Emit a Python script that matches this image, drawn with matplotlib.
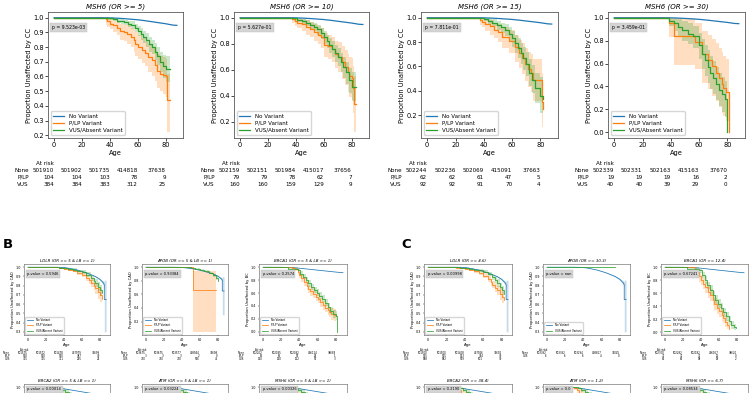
import matplotlib
matplotlib.use("Agg")
import matplotlib.pyplot as plt
from matplotlib import transforms
from matplotlib.ticker import MultipleLocator, FormatStrFormatter

# ====================== DATA ======================
RISK_AGES = [0, 20, 40, 60, 80]
CURVE_LABELS = ["No Variant", "P/LP Variant", "VUS/Absent Variant"]

# ---- Panel A: MSH6 at increasing OR thresholds ----
MSH6_NONE_AGE = [0, 35, 40, 45, 50, 55, 60, 65, 70, 75, 80, 85, 88]
MSH6_NONE_S = [1.0, 1.0, 0.999, 0.997, 0.994, 0.990, 0.986, 0.980, 0.973, 0.966, 0.959, 0.950, 0.948]

A_TITLES = ["MSH6 (OR >= 5)", "MSH6 (OR >= 10)", "MSH6 (OR >= 15)", "MSH6 (OR >= 30)"]
A_PVALS = ["p = 9.523e-03", "p = 5.627e-01", "p = 7.811e-01", "p = 3.459e-01"]
A_YSTEP = [0.1, 0.2, 0.2, 0.2]

A1_PLP_AGE = [0, 37, 38, 40, 42, 45, 47, 50, 52, 55, 57, 58, 60, 63, 65, 67, 70, 72, 74, 76, 78, 80, 81, 83]
A1_PLP_S = [1.0, 0.99, 0.98, 0.96, 0.95, 0.93, 0.91, 0.90, 0.89, 0.87, 0.85, 0.82, 0.80, 0.78, 0.76, 0.73, 0.71, 0.68, 0.64, 0.62, 0.61, 0.60, 0.44, 0.44]
A1_PLP_LO = [1.0, 0.95, 0.94, 0.92, 0.90, 0.88, 0.85, 0.84, 0.82, 0.80, 0.77, 0.74, 0.72, 0.69, 0.67, 0.63, 0.60, 0.57, 0.52, 0.50, 0.48, 0.46, 0.22, 0.22]
A1_PLP_HI = [1.0, 1.0, 1.0, 0.99, 0.98, 0.97, 0.96, 0.95, 0.95, 0.93, 0.92, 0.90, 0.88, 0.86, 0.84, 0.82, 0.80, 0.78, 0.75, 0.74, 0.73, 0.72, 0.62, 0.62]
A1_VUS_AGE = [0, 38, 42, 45, 48, 50, 53, 55, 58, 60, 62, 64, 66, 68, 70, 72, 74, 76, 78, 80, 83]
A1_VUS_S = [1.0, 0.995, 0.99, 0.98, 0.975, 0.97, 0.96, 0.95, 0.93, 0.91, 0.89, 0.87, 0.85, 0.82, 0.80, 0.77, 0.74, 0.70, 0.67, 0.65, 0.65]
A1_VUS_LO = [1.0, 0.985, 0.98, 0.965, 0.955, 0.95, 0.935, 0.92, 0.90, 0.875, 0.85, 0.83, 0.80, 0.77, 0.75, 0.71, 0.68, 0.63, 0.59, 0.56, 0.56]
A1_VUS_HI = [1.0, 1.0, 1.0, 0.99, 0.99, 0.985, 0.98, 0.975, 0.96, 0.945, 0.93, 0.91, 0.895, 0.87, 0.85, 0.825, 0.80, 0.77, 0.745, 0.74, 0.74]

A2_PLP_AGE = [0, 37, 39, 41, 44, 47, 50, 53, 56, 58, 60, 63, 66, 68, 70, 73, 75, 77, 78, 80, 81, 82, 83]
A2_PLP_S = [1.0, 0.99, 0.975, 0.96, 0.95, 0.93, 0.91, 0.89, 0.87, 0.85, 0.79, 0.78, 0.76, 0.72, 0.70, 0.66, 0.62, 0.58, 0.55, 0.54, 0.46, 0.34, 0.34]
A2_PLP_LO = [1.0, 0.96, 0.94, 0.92, 0.90, 0.87, 0.85, 0.82, 0.80, 0.77, 0.70, 0.68, 0.66, 0.61, 0.58, 0.53, 0.48, 0.43, 0.39, 0.37, 0.27, 0.12, 0.12]
A2_PLP_HI = [1.0, 1.0, 1.0, 0.99, 0.99, 0.98, 0.97, 0.95, 0.94, 0.92, 0.88, 0.87, 0.85, 0.82, 0.81, 0.78, 0.75, 0.72, 0.70, 0.69, 0.63, 0.55, 0.55]
A2_VUS_AGE = [0, 38, 41, 44, 47, 50, 53, 55, 58, 60, 62, 64, 66, 68, 70, 72, 74, 76, 78, 80, 83]
A2_VUS_S = [1.0, 0.995, 0.985, 0.975, 0.96, 0.945, 0.93, 0.91, 0.88, 0.85, 0.82, 0.79, 0.76, 0.73, 0.70, 0.66, 0.62, 0.58, 0.52, 0.47, 0.47]
A2_VUS_LO = [1.0, 0.985, 0.97, 0.955, 0.935, 0.915, 0.895, 0.87, 0.84, 0.80, 0.77, 0.73, 0.70, 0.66, 0.63, 0.58, 0.54, 0.49, 0.42, 0.36, 0.36]
A2_VUS_HI = [1.0, 1.0, 0.995, 0.99, 0.98, 0.97, 0.96, 0.945, 0.92, 0.895, 0.87, 0.845, 0.82, 0.79, 0.77, 0.73, 0.70, 0.66, 0.61, 0.58, 0.58]

A3_PLP_AGE = [0, 37, 39, 41, 44, 47, 50, 53, 56, 58, 62, 65, 67, 69, 71, 73, 75, 77, 80, 81, 82]
A3_PLP_S = [1.0, 0.98, 0.965, 0.95, 0.93, 0.90, 0.88, 0.84, 0.84, 0.81, 0.76, 0.71, 0.67, 0.62, 0.58, 0.55, 0.49, 0.49, 0.49, 0.31, 0.25]
A3_PLP_LO = [1.0, 0.94, 0.92, 0.89, 0.86, 0.83, 0.80, 0.75, 0.75, 0.71, 0.64, 0.59, 0.54, 0.48, 0.43, 0.39, 0.32, 0.32, 0.32, 0.10, 0.06]
A3_PLP_HI = [1.0, 1.0, 1.0, 0.99, 0.98, 0.96, 0.95, 0.92, 0.92, 0.90, 0.86, 0.82, 0.79, 0.75, 0.72, 0.70, 0.66, 0.66, 0.66, 0.55, 0.52]
A3_VUS_AGE = [0, 40, 43, 46, 49, 52, 55, 58, 60, 62, 64, 66, 68, 70, 72, 74, 76, 80, 82]
A3_VUS_S = [1.0, 0.99, 0.975, 0.96, 0.94, 0.92, 0.90, 0.87, 0.83, 0.79, 0.75, 0.71, 0.67, 0.62, 0.55, 0.49, 0.42, 0.36, 0.33]
A3_VUS_LO = [1.0, 0.97, 0.95, 0.93, 0.90, 0.875, 0.85, 0.81, 0.76, 0.71, 0.67, 0.62, 0.57, 0.52, 0.44, 0.38, 0.30, 0.22, 0.16]
A3_VUS_HI = [1.0, 1.0, 0.995, 0.99, 0.975, 0.96, 0.945, 0.92, 0.89, 0.86, 0.83, 0.79, 0.76, 0.72, 0.66, 0.61, 0.55, 0.51, 0.50]

A4_PLP_AGE = [0, 39, 42, 57, 62, 66, 69, 72, 74, 76, 77, 79, 81]
A4_PLP_S = [1.0, 0.95, 0.84, 0.79, 0.68, 0.63, 0.58, 0.52, 0.47, 0.42, 0.39, 0.35, 0.0]
A4_PLP_LO = [1.0, 0.83, 0.59, 0.55, 0.43, 0.38, 0.32, 0.27, 0.22, 0.17, 0.14, 0.10, 0.0]
A4_PLP_HI = [1.0, 1.0, 1.0, 0.95, 0.88, 0.85, 0.81, 0.78, 0.74, 0.70, 0.67, 0.64, 0.0]
A4_VUS_AGE = [0, 39, 42, 45, 48, 52, 56, 60, 62, 64, 66, 68, 70, 72, 74, 76, 78, 80]
A4_VUS_S = [1.0, 0.975, 0.95, 0.92, 0.89, 0.86, 0.84, 0.76, 0.68, 0.63, 0.57, 0.52, 0.47, 0.42, 0.37, 0.33, 0.29, 0.0]
A4_VUS_LO = [1.0, 0.93, 0.88, 0.84, 0.80, 0.77, 0.74, 0.64, 0.55, 0.49, 0.43, 0.38, 0.33, 0.28, 0.23, 0.18, 0.13, 0.0]
A4_VUS_HI = [1.0, 1.0, 1.0, 0.99, 0.97, 0.95, 0.93, 0.87, 0.81, 0.76, 0.72, 0.67, 0.62, 0.57, 0.52, 0.48, 0.45, 0.0]

A_RISK_NONE = [[501910, 501902, 501735, 414818, 37638],
               [502159, 502151, 501984, 415017, 37656],
               [502244, 502236, 502069, 415091, 37663],
               [502339, 502331, 502163, 415163, 37670]]
A_RISK_PLP = [[104, 104, 103, 78, 9], [79, 79, 78, 62, 7], [62, 62, 61, 47, 5], [19, 19, 19, 16, 2]]
A_RISK_VUS = [[384, 384, 383, 312, 25], [160, 160, 159, 129, 9], [92, 92, 91, 70, 4], [40, 40, 39, 29, 0]]

# ---- shared reference ("None") curves for the small panels ----
CAD_NONE_AGE = [0, 30, 40, 45, 50, 55, 60, 65, 70, 75, 80, 84, 85, 85, 87]
CAD_NONE_S = [1.0, 1.0, 0.998, 0.99, 0.98, 0.97, 0.955, 0.94, 0.92, 0.90, 0.87, 0.83, 0.81, 0.65, 0.65]
CAD_NONE_LO = [1.0, 1.0, 0.997, 0.989, 0.979, 0.968, 0.953, 0.937, 0.916, 0.894, 0.86, 0.81, 0.78, 0.30, 0.30]
CAD_NONE_HI = [1.0, 1.0, 0.999, 0.991, 0.981, 0.972, 0.957, 0.943, 0.924, 0.906, 0.88, 0.85, 0.84, 0.86, 0.86]
BC_NONE_AGE = [0, 20, 30, 40, 50, 60, 70, 80, 88]
BC_NONE_S = [1.0, 0.999, 0.995, 0.985, 0.97, 0.955, 0.94, 0.925, 0.915]

# ---- Panel B (OR >= 5 & LB >= 1) ----
B1_PLP_AGE = [0, 30, 35, 40, 45, 50, 55, 60, 65, 68, 70, 73, 75, 78, 80, 82]
B1_PLP_S = [1.0, 0.998, 0.99, 0.98, 0.97, 0.96, 0.94, 0.92, 0.88, 0.86, 0.83, 0.80, 0.77, 0.73, 0.70, 0.66]
B1_PLP_LO = [1.0, 0.995, 0.985, 0.97, 0.96, 0.945, 0.92, 0.895, 0.85, 0.82, 0.79, 0.75, 0.71, 0.66, 0.62, 0.56]
B1_PLP_HI = [1.0, 1.0, 0.995, 0.99, 0.98, 0.975, 0.96, 0.945, 0.91, 0.895, 0.87, 0.845, 0.82, 0.79, 0.77, 0.75]
B1_VUS_AGE = [0, 35, 40, 45, 50, 55, 60, 65, 70, 73, 75, 78, 80, 82]
B1_VUS_S = [1.0, 0.995, 0.99, 0.985, 0.975, 0.96, 0.945, 0.92, 0.88, 0.85, 0.83, 0.79, 0.75, 0.72]
B1_VUS_LO = [1.0, 0.99, 0.983, 0.975, 0.962, 0.945, 0.925, 0.895, 0.85, 0.81, 0.79, 0.74, 0.69, 0.65]
B1_VUS_HI = [1.0, 1.0, 0.997, 0.993, 0.988, 0.975, 0.965, 0.945, 0.91, 0.885, 0.87, 0.84, 0.81, 0.79]

B2_PLP_AGE = [0, 52, 78]
B2_PLP_S = [1.0, 0.667, 0.667]
B2_PLP_LO = [1.0, 0.05, 0.05]
B2_PLP_HI = [1.0, 0.95, 0.95]
B2_VUS_AGE = [0, 45, 50, 55, 60, 65, 70, 75, 78, 80]
B2_VUS_S = [1.0, 0.998, 0.99, 0.98, 0.965, 0.95, 0.92, 0.88, 0.84, 0.79]
B2_VUS_LO = [1.0, 0.996, 0.986, 0.974, 0.957, 0.94, 0.905, 0.86, 0.81, 0.74]
B2_VUS_HI = [1.0, 1.0, 0.994, 0.986, 0.973, 0.96, 0.935, 0.90, 0.87, 0.84]

B3_PLP_AGE = [0, 32, 35, 38, 40, 42, 45, 48, 50, 52, 55, 58, 60, 63, 66, 68, 71, 73, 75, 78, 80]
B3_PLP_S = [1.0, 0.99, 0.97, 0.93, 0.88, 0.83, 0.77, 0.71, 0.67, 0.63, 0.59, 0.54, 0.51, 0.46, 0.41, 0.37, 0.33, 0.30, 0.28, 0.26, 0.25]
B3_PLP_LO = [1.0, 0.97, 0.94, 0.89, 0.83, 0.77, 0.71, 0.65, 0.60, 0.56, 0.52, 0.47, 0.44, 0.39, 0.34, 0.30, 0.26, 0.23, 0.19, 0.17, 0.17]
B3_PLP_HI = [1.0, 1.0, 0.99, 0.96, 0.92, 0.88, 0.83, 0.77, 0.73, 0.70, 0.66, 0.61, 0.58, 0.53, 0.48, 0.44, 0.40, 0.38, 0.37, 0.36, 0.36]
B3_VUS_AGE = [0, 28, 38, 41, 44, 47, 50, 53, 56, 59, 62, 65, 68, 71, 74, 77, 80, 81]
B3_VUS_S = [1.0, 0.98, 0.95, 0.90, 0.85, 0.80, 0.75, 0.69, 0.65, 0.60, 0.56, 0.51, 0.45, 0.38, 0.32, 0.27, 0.25, 0.0]
B3_VUS_LO = [1.0, 0.96, 0.92, 0.86, 0.81, 0.76, 0.70, 0.64, 0.60, 0.55, 0.51, 0.46, 0.40, 0.33, 0.27, 0.22, 0.18, 0.0]
B3_VUS_HI = [1.0, 1.0, 0.98, 0.94, 0.89, 0.85, 0.80, 0.74, 0.70, 0.66, 0.61, 0.57, 0.51, 0.44, 0.38, 0.33, 0.32, 0.0]

B_TITLES = ["LDLR (OR >= 5 & LB >= 1)", "APOB (OR >= 5 & LB >= 1)", "BRCA1 (OR >= 5 & LB >= 1)"]
B_PVALS = ["p-value = 0.5946", "p-value = 0.93384", "p-value = 0.2574"]
B_RISK_NONE = [[501575, 501572, 501478, 407979, 34699], [503675, 503675, 503577, 408944, 34698], [502202, 502185, 502082, 406114, 38688]]
B_RISK_PLP = [[530, 530, 530, 387, 30], [3, 3, 3, 2, 0], [66, 66, 57, 26, 1]]
B_RISK_VUS = [[325, 325, 321, 255, 24], [730, 730, 730, 576, 45], [130, 130, 122, 57, 3]]

# ---- Panel C (calibrated OR thresholds) ----
C1_PLP_AGE = [0, 30, 35, 40, 45, 50, 55, 60, 65, 68, 70, 73, 75, 78, 80, 83]
C1_PLP_S = [1.0, 0.997, 0.99, 0.98, 0.97, 0.955, 0.935, 0.91, 0.87, 0.84, 0.81, 0.78, 0.75, 0.71, 0.68, 0.65]
C1_PLP_LO = [1.0, 0.994, 0.985, 0.972, 0.96, 0.94, 0.915, 0.885, 0.84, 0.80, 0.77, 0.73, 0.70, 0.65, 0.61, 0.57]
C1_PLP_HI = [1.0, 1.0, 0.995, 0.988, 0.98, 0.97, 0.955, 0.935, 0.90, 0.875, 0.85, 0.825, 0.80, 0.77, 0.75, 0.73]
C1_VUS_AGE = [0, 35, 40, 45, 50, 55, 60, 65, 70, 73, 75, 78, 80, 83]
C1_VUS_S = [1.0, 0.996, 0.99, 0.985, 0.975, 0.965, 0.95, 0.93, 0.89, 0.86, 0.83, 0.79, 0.75, 0.71]
C1_VUS_LO = [1.0, 0.992, 0.984, 0.977, 0.965, 0.952, 0.935, 0.91, 0.865, 0.83, 0.79, 0.75, 0.70, 0.65]
C1_VUS_HI = [1.0, 1.0, 0.996, 0.993, 0.985, 0.978, 0.965, 0.95, 0.915, 0.89, 0.87, 0.83, 0.80, 0.77]

C2_VUS_AGE = [0, 75]
C2_VUS_S = [1.0, 1.0]

C3_PLP_AGE = [0, 33, 36, 38, 40, 42, 45, 48, 50, 53, 55, 58, 60, 63, 65, 67, 69, 71]
C3_PLP_S = [1.0, 0.97, 0.92, 0.86, 0.80, 0.75, 0.69, 0.62, 0.57, 0.50, 0.44, 0.38, 0.33, 0.27, 0.22, 0.16, 0.11, 0.05]
C3_PLP_LO = [1.0, 0.92, 0.85, 0.78, 0.72, 0.66, 0.60, 0.53, 0.48, 0.41, 0.35, 0.29, 0.24, 0.18, 0.14, 0.09, 0.05, 0.01]
C3_PLP_HI = [1.0, 1.0, 0.97, 0.93, 0.88, 0.84, 0.78, 0.71, 0.66, 0.59, 0.53, 0.47, 0.42, 0.36, 0.31, 0.25, 0.19, 0.12]
C3_VUS_AGE = [0, 25, 38, 41, 44, 47, 50, 53, 56, 59, 62, 65, 68, 71, 74, 77, 79]
C3_VUS_S = [1.0, 0.98, 0.95, 0.88, 0.80, 0.72, 0.65, 0.57, 0.50, 0.44, 0.38, 0.31, 0.25, 0.18, 0.12, 0.08, 0.07]
C3_VUS_LO = [1.0, 0.95, 0.91, 0.83, 0.74, 0.66, 0.58, 0.50, 0.43, 0.37, 0.31, 0.24, 0.18, 0.12, 0.06, 0.03, 0.03]
C3_VUS_HI = [1.0, 1.0, 0.98, 0.93, 0.86, 0.78, 0.72, 0.64, 0.57, 0.51, 0.45, 0.38, 0.32, 0.25, 0.18, 0.13, 0.12]

C_TITLES = ["LDLR (OR >= 4.6)", "APOB (OR >= 30.3)", "BRCA1 (OR >= 12.4)"]
C_PVALS = ["p-value = 0.00998", "p-value = nan", "p-value = 0.67241"]
C_RISK_NONE = [[501500, 501500, 501408, 407926, 34692], [503392, 503392, 503294, 408817, 34045], [502300, 502282, 502182, 406167, 38620]]
C_RISK_PLP = [[515, 515, 513, 394, 30], None, [37, 37, 31, 12, 0]]
C_RISK_VUS = [[588, 582, 579, 501, 30], [6, 6, 6, 4, 0], [62, 62, 58, 18, 2]]

# ---- second row of panels B and C (cut off at the bottom edge) ----
ROW2_PLP_AGE = [0, 30, 33, 36, 40, 45, 50, 55, 60, 65, 70, 75, 80]
ROW2_PLP_S = [1.0, 0.99, 0.97, 0.94, 0.90, 0.84, 0.78, 0.72, 0.66, 0.60, 0.55, 0.50, 0.46]
ROW2_PLP_LO = [1.0, 0.97, 0.93, 0.89, 0.84, 0.77, 0.70, 0.64, 0.57, 0.51, 0.45, 0.40, 0.35]
ROW2_PLP_HI = [1.0, 1.0, 1.0, 0.98, 0.95, 0.90, 0.85, 0.80, 0.74, 0.69, 0.64, 0.60, 0.57]
ROW2_VUS_AGE = [0, 34, 38, 42, 46, 50, 55, 60, 65, 70, 75, 80]
ROW2_VUS_S = [1.0, 0.99, 0.97, 0.95, 0.91, 0.87, 0.82, 0.77, 0.71, 0.65, 0.60, 0.55]
ROW2_VUS_LO = [1.0, 0.98, 0.95, 0.92, 0.87, 0.83, 0.77, 0.71, 0.65, 0.58, 0.52, 0.46]
ROW2_VUS_HI = [1.0, 1.0, 0.99, 0.98, 0.95, 0.91, 0.87, 0.83, 0.77, 0.72, 0.68, 0.64]
B_ROW2_TITLES = ["BRCA2 (OR >= 5 & LB >= 1)", "ATM (OR >= 5 & LB >= 1)", "MSH6 (OR >= 5 & LB >= 1)"]
B_ROW2_PVALS = ["p-value = 0.00014", "p-value = 0.03224", "p-value = 0.00326"]
C_ROW2_TITLES = ["BRCA2 (OR >= 38.4)", "ATM (OR >= 1.2)", "MSH6 (OR >= 6.7)"]
C_ROW2_PVALS = ["p-value = 0.2190", "p-value = 0.0", "p-value = 0.08534"]

# ====================== DRAWING ======================
W, H = 750, 393
BLUE, ORANGE, GREEN = "#1f77b4", "#ff7f0e", "#2ca02c"
fig = plt.figure(figsize=(7.5, 3.93), dpi=100)

TOP = dict(tick=4.8, title=5.0, label=4.8, leg=4.0, p=3.3, risk=4.1, lw=0.9, spine=0.6,
           ticklen=2.0, tickw=0.5, labelpad=1.0, titlepad=2.5, rowx=-18, hl=2.0)
SMALL = dict(tick=2.4, title=2.9, label=2.7, leg=2.0, p=2.6, risk=1.9, lw=0.55, spine=0.4,
             ticklen=1.0, tickw=0.3, labelpad=0.6, titlepad=1.2, rowx=-20, hl=2.5)


def px_axes(l, t, r, b):
    return fig.add_axes([l / W, 1 - b / H, (r - l) / W, (b - t) / H])


def curve(ax, age, s, lo, hi, color, label, lw, smooth=False):
    if smooth:
        ax.plot(age, s, color=color, lw=lw, label=label)
        if lo is not None:
            ax.fill_between(age, lo, hi, color=color, alpha=0.25, lw=0)
    else:
        ax.step(age, s, where="post", color=color, lw=lw, label=label)
        if lo is not None:
            ax.fill_between(age, lo, hi, step="post", color=color, alpha=0.25, lw=0)


def style_axes(ax, title, ptext, ystep, st, py, px=0.03):
    ax.set_title(title, fontsize=st["title"], style="italic", pad=st["titlepad"])
    ax.xaxis.set_major_locator(MultipleLocator(20))
    ax.yaxis.set_major_locator(MultipleLocator(ystep))
    ax.yaxis.set_major_formatter(FormatStrFormatter("%.1f"))
    ax.tick_params(labelsize=st["tick"], length=st["ticklen"], width=st["tickw"], pad=1)
    for sp in ax.spines.values():
        sp.set_linewidth(st["spine"])
        sp.set_color("0.35")
    ax.text(px, py, ptext, transform=ax.transAxes, fontsize=st["p"], ha="left", va="center",
            bbox=dict(boxstyle="square,pad=0.45", fc="0.83", ec="0.75", lw=0.3))


def labels_legend(ax, ylabel, st):
    ax.set_ylabel(ylabel, fontsize=st["label"], labelpad=st["labelpad"])
    ax.set_xlabel("Age", fontsize=st["label"], labelpad=st["labelpad"])
    ax.legend(loc="lower left", fontsize=st["leg"], handlelength=st["hl"], framealpha=0.8,
              edgecolor="0.8", borderpad=0.4, labelspacing=0.4)


def at_risk(ax, rows, ys, st):
    tr = transforms.blended_transform_factory(ax.transData, fig.transFigure)
    ax.text(RISK_AGES[0], 1 - ys[0] / H, "At risk", transform=tr, ha="right", va="center", fontsize=st["risk"])
    for i, (name, vals) in enumerate(rows):
        y = 1 - ys[i + 1] / H
        ax.text(st["rowx"], y, name, transform=tr, ha="right", va="center", fontsize=st["risk"])
        for t, v in zip(RISK_AGES, vals):
            ax.text(t, y, str(v), transform=tr, ha="right", va="center", fontsize=st["risk"])


# ---- Panel A ----
A_BOXES = [(48, 183), (234, 369), (421, 558), (608, 745)]
A_PLP = [(A1_PLP_AGE, A1_PLP_S, A1_PLP_LO, A1_PLP_HI), (A2_PLP_AGE, A2_PLP_S, A2_PLP_LO, A2_PLP_HI),
         (A3_PLP_AGE, A3_PLP_S, A3_PLP_LO, A3_PLP_HI), (A4_PLP_AGE, A4_PLP_S, A4_PLP_LO, A4_PLP_HI)]
A_VUS = [(A1_VUS_AGE, A1_VUS_S, A1_VUS_LO, A1_VUS_HI), (A2_VUS_AGE, A2_VUS_S, A2_VUS_LO, A2_VUS_HI),
         (A3_VUS_AGE, A3_VUS_S, A3_VUS_LO, A3_VUS_HI), (A4_VUS_AGE, A4_VUS_S, A4_VUS_LO, A4_VUS_HI)]
for i, (l, r) in enumerate(A_BOXES):
    ax = px_axes(l, 12, r, 138)
    curve(ax, MSH6_NONE_AGE, MSH6_NONE_S, None, None, BLUE, CURVE_LABELS[0], TOP["lw"], smooth=True)
    curve(ax, *A_PLP[i], ORANGE, CURVE_LABELS[1], TOP["lw"])
    curve(ax, *A_VUS[i], GREEN, CURVE_LABELS[2], TOP["lw"])
    style_axes(ax, A_TITLES[i], A_PVALS[i], A_YSTEP[i], TOP, 0.877)
    labels_legend(ax, "Proportion Unaffected by CC", TOP)
    at_risk(ax, [("None", A_RISK_NONE[i]), ("P/LP", A_RISK_PLP[i]), ("VUS", A_RISK_VUS[i])],
            [164, 171, 177.5, 184], TOP)

# ---- Panels B and C ----
fig.text(3 / W, 1 - 244 / H, "B", fontsize=9.5, fontweight="bold", va="center")
fig.text(401 / W, 1 - 244 / H, "C", fontsize=9.5, fontweight="bold", va="center")

SMALL_BOXES_B = [(24, 110), (142, 228), (259, 347)]
SMALL_BOXES_C = [(424, 512), (543, 630), (661, 748)]
RISK_Y_SMALL = [350, 353.3, 355.9, 358.5]

B_CURVES = [
    [(CAD_NONE_AGE, CAD_NONE_S, CAD_NONE_LO, CAD_NONE_HI, BLUE, True),
     (B1_PLP_AGE, B1_PLP_S, B1_PLP_LO, B1_PLP_HI, ORANGE, False),
     (B1_VUS_AGE, B1_VUS_S, B1_VUS_LO, B1_VUS_HI, GREEN, False)],
    [(CAD_NONE_AGE, CAD_NONE_S, CAD_NONE_LO, CAD_NONE_HI, BLUE, True),
     (B2_PLP_AGE, B2_PLP_S, B2_PLP_LO, B2_PLP_HI, ORANGE, False),
     (B2_VUS_AGE, B2_VUS_S, B2_VUS_LO, B2_VUS_HI, GREEN, False)],
    [(BC_NONE_AGE, BC_NONE_S, None, None, BLUE, True),
     (B3_PLP_AGE, B3_PLP_S, B3_PLP_LO, B3_PLP_HI, ORANGE, False),
     (B3_VUS_AGE, B3_VUS_S, B3_VUS_LO, B3_VUS_HI, GREEN, False)],
]
C_CURVES = [
    [(CAD_NONE_AGE, CAD_NONE_S, CAD_NONE_LO, CAD_NONE_HI, BLUE, True),
     (C1_PLP_AGE, C1_PLP_S, C1_PLP_LO, C1_PLP_HI, ORANGE, False),
     (C1_VUS_AGE, C1_VUS_S, C1_VUS_LO, C1_VUS_HI, GREEN, False)],
    [(CAD_NONE_AGE, CAD_NONE_S, CAD_NONE_LO, CAD_NONE_HI, BLUE, True),
     (C2_VUS_AGE, C2_VUS_S, None, None, GREEN, False)],
    [(BC_NONE_AGE, BC_NONE_S, None, None, BLUE, True),
     (C3_PLP_AGE, C3_PLP_S, C3_PLP_LO, C3_PLP_HI, ORANGE, False),
     (C3_VUS_AGE, C3_VUS_S, C3_VUS_LO, C3_VUS_HI, GREEN, False)],
]
LABEL_BY_COLOR = {BLUE: CURVE_LABELS[0], ORANGE: CURVE_LABELS[1], GREEN: CURVE_LABELS[2]}
YLABELS = ["Proportion Unaffected by CAD", "Proportion Unaffected by CAD", "Proportion Unaffected by BC"]
B_YSTEP = [0.1, 0.2, 0.2]
C_YSTEP = [0.1, 0.1, 0.2]


def small_panel(box, curves, title, ptext, ystep, top, bottom, py):
    ax = px_axes(box[0], top, box[1], bottom)
    for age, s, lo, hi, col, smooth in curves:
        curve(ax, age, s, lo, hi, col, LABEL_BY_COLOR[col], SMALL["lw"], smooth=smooth)
    style_axes(ax, title, ptext, ystep, SMALL, py, px=0.04)
    return ax


for boxes, curves_l, titles, pvals, ysteps, rnone, rplp, rvus in [
        (SMALL_BOXES_B, B_CURVES, B_TITLES, B_PVALS, B_YSTEP, B_RISK_NONE, B_RISK_PLP, B_RISK_VUS),
        (SMALL_BOXES_C, C_CURVES, C_TITLES, C_PVALS, C_YSTEP, C_RISK_NONE, C_RISK_PLP, C_RISK_VUS)]:
    for i in range(3):
        ax = small_panel(boxes[i], curves_l[i], titles[i], pvals[i], ysteps[i], 264, 335, 0.86)
        labels_legend(ax, YLABELS[i], SMALL)
        rows = [("None", rnone[i])]
        if rplp[i] is not None:
            rows.append(("P/LP", rplp[i]))
        rows.append(("VUS", rvus[i]))
        at_risk(ax, rows, RISK_Y_SMALL, SMALL)

# second row: only its top edge lies inside the figure
for boxes, titles, pvals in [(SMALL_BOXES_B, B_ROW2_TITLES, B_ROW2_PVALS), (SMALL_BOXES_C, C_ROW2_TITLES, C_ROW2_PVALS)]:
    for i in range(3):
        curves = [(BC_NONE_AGE, BC_NONE_S, None, None, BLUE, True),
                  (ROW2_PLP_AGE, ROW2_PLP_S, ROW2_PLP_LO, ROW2_PLP_HI, ORANGE, False),
                  (ROW2_VUS_AGE, ROW2_VUS_S, ROW2_VUS_LO, ROW2_VUS_HI, GREEN, False)]
        ax = small_panel(boxes[i], curves, titles[i], pvals[i], 0.2, 384, 455, 0.925)
        ax.set_yticks([1.0])
        ax.tick_params(axis="x", labelbottom=False)

fig.savefig("out.png", dpi=100)
